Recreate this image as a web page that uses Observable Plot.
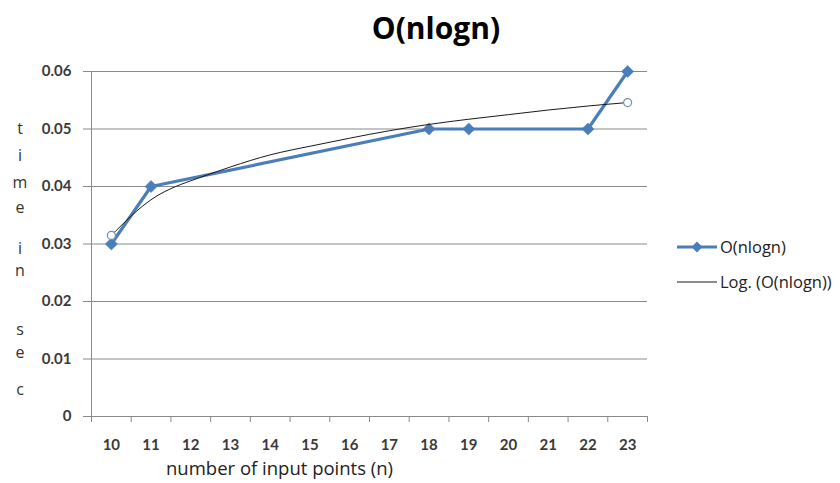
<!DOCTYPE html>
<html>
<head>
<meta charset="utf-8">
<script src="https://cdn.jsdelivr.net/npm/d3@7"></script>
<script src="https://cdn.jsdelivr.net/npm/@observablehq/plot@0.6"></script>
<style>
  body { margin: 0; background: #fff; font-family: Lato, "Open Sans", sans-serif; }
  #wrap { position: relative; width: 840px; height: 483px; overflow: hidden; }
  #title { position: absolute; left: 286px; width: 300px; top: 13px; text-align: center;
           font-family: "Open Sans", sans-serif; font-weight: bold; font-size: 30px; color: #000; line-height: 1; }
  .ylet { position: absolute; width: 20px; left: 10px; text-align: center; font-size: 16px;
          font-family: "Open Sans", sans-serif; color: #333; line-height: 1; }
  #xtitle { position: absolute; left: 166px; top: 459px; font-family: "Open Sans", sans-serif; font-size: 18.5px; color: #222; line-height: 1; white-space: nowrap; }
  .leg { position: absolute; left: 676px; display: flex; align-items: center; font-family: "Open Sans", sans-serif; font-size: 16.5px; color: #222; white-space: nowrap; }
  .leg svg { margin-right: 2px; }
</style>
</head>
<body>
<div id="wrap">
  <div id="chart"></div>
</div>
<script>
// ---- data ----
const categories = [10, 11, 12, 13, 14, 15, 16, 17, 18, 19, 20, 21, 22, 23];
const nValues    = [10, 11, 18, 19, 22, 23];
const timeValues = [0.03, 0.04, 0.05, 0.05, 0.05, 0.06];
// logarithmic trendline, one value per category
const trendValues = [0.0315, 0.0377, 0.0410, 0.0434, 0.0455, 0.0470, 0.0484, 0.0497, 0.0508, 0.0517, 0.0525, 0.0533, 0.0540, 0.0546];
const yTicks = [0, 0.01, 0.02, 0.03, 0.04, 0.05, 0.06];
const titleText = "O(nlogn)";
const seriesName = "O(nlogn)";
const trendName = "Log. (O(nlogn))";
const xTitle = "number of input points (n)";
const yTitleLetters = ["t", "i", "m", "e", "i", "n", "s", "e", "c"];

const series = nValues.map((n, i) => ({n, t: timeValues[i]}));
const trend = categories.map((n, i) => ({n, t: trendValues[i]}));
const trendEnds = [trend[0], trend[trend.length - 1]];
const bounds = categories.map(c => c - 0.5).concat([categories[categories.length - 1] + 0.5]);

const blue = "#4a7ebb";
const grid = "#8a8a8a";

const chart = Plot.plot({
  width: 840,
  height: 483,
  marginLeft: 91,
  marginRight: 193,
  marginTop: 71,
  marginBottom: 67,
  style: { fontFamily: "Lato, 'Open Sans', sans-serif", background: "white", overflow: "visible" },
  x: { domain: [bounds[0], bounds[bounds.length - 1]] },
  y: { domain: [0, 0.06] },
  marks: [
    Plot.gridY(yTicks, { stroke: grid, strokeOpacity: 1, strokeWidth: 1 }),
    Plot.axisY(yTicks, {
      tickSize: 8, tickPadding: 12, stroke: grid, strokeOpacity: 1,
      tickFormat: d => d === 0 ? "0" : d.toFixed(2),
      fontSize: 15, fontWeight: "bold", fill: "#3a3a3a", label: null
    }),
    Plot.ruleX([bounds[0]], { stroke: grid, strokeWidth: 1 }),
    Plot.ruleY([0], { stroke: grid, strokeWidth: 1 }),
    Plot.axisX(bounds, { tickSize: 6, stroke: grid, strokeOpacity: 1, tickFormat: () => "", label: null }),
    Plot.axisX(categories, {
      tickSize: 0, tickPadding: 23, tickFormat: d => String(d),
      fontSize: 15, fontWeight: "bold", fill: "#3a3a3a", label: null
    }),
    Plot.line(series, { x: "n", y: "t", stroke: blue, strokeWidth: 3.2, strokeLinejoin: "round" }),
    Plot.dot(series, { x: "n", y: "t", symbol: "diamond2", r: 5.5, fill: blue, stroke: blue, strokeWidth: 0.5 }),
    Plot.line(trend, { x: "n", y: "t", curve: "natural", stroke: "#1a1a1a", strokeWidth: 1 }),
    Plot.dot(trendEnds, { x: "n", y: "t", r: 4, fill: "white", stroke: "#6f8fb2", strokeWidth: 1.2 })
  ]
});

const wrap = document.getElementById("wrap");
document.getElementById("chart").appendChild(chart);

const title = document.createElement("div");
title.id = "title";
title.textContent = titleText;
wrap.appendChild(title);

const xt = document.createElement("div");
xt.id = "xtitle";
xt.textContent = xTitle;
wrap.appendChild(xt);

const letterTops = [120, 147, 174, 199, 240, 262, 321, 344, 381];
yTitleLetters.forEach((ch, i) => {
  const s = document.createElement("div");
  s.className = "ylet";
  s.style.top = letterTops[i] + "px";
  s.textContent = ch;
  wrap.appendChild(s);
});

function legendItem(top, label, swatch) {
  const d = document.createElement("div");
  d.className = "leg";
  d.style.top = top + "px";
  d.innerHTML = swatch;
  const t = document.createElement("span");
  t.textContent = label;
  d.appendChild(t);
  wrap.appendChild(d);
}
legendItem(235, seriesName,
  `<svg width="42" height="20"><line x1="1" x2="41" y1="10" y2="10" stroke="${blue}" stroke-width="3"/><path d="M21 4.5 L26.5 10 L21 15.5 L15.5 10 Z" fill="${blue}"/></svg>`);
legendItem(270, trendName,
  `<svg width="42" height="20"><line x1="1" x2="41" y1="10" y2="10" stroke="#1a1a1a" stroke-width="1"/></svg>`);
</script>
</body>
</html>
